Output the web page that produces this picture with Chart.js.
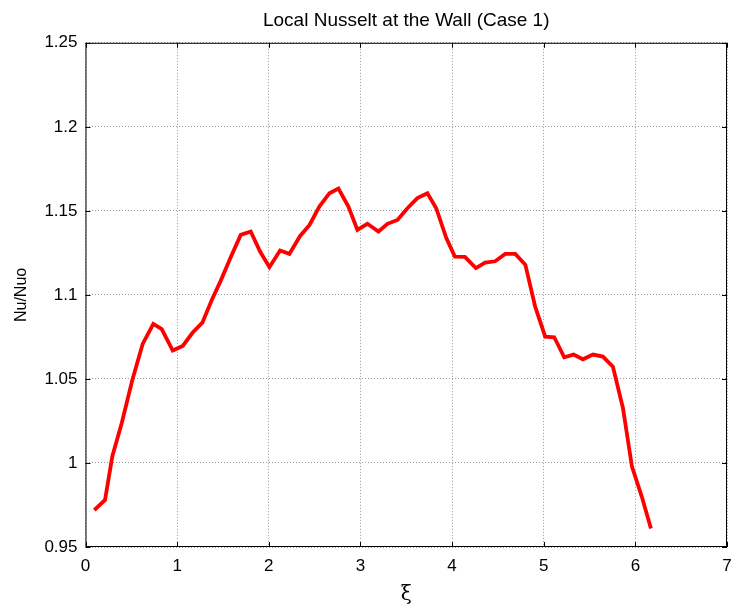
<!DOCTYPE html>
<html>
<head>
<meta charset="utf-8">
<script src="https://cdn.jsdelivr.net/npm/chart.js@4/dist/chart.umd.min.js"></script>
<style>
  html, body { margin: 0; padding: 0; background: #fff; overflow: hidden; }
</style>
</head>
<body>
<canvas id="chart" width="732" height="607"></canvas>
<script>
// values
const xi = [
  0.096, 0.213, 0.293, 0.395, 0.511, 0.624, 0.74, 0.832, 0.952, 1.061,
  1.17, 1.275, 1.378, 1.476, 1.588, 1.694, 1.803, 1.905, 2.007, 2.123,
  2.225, 2.342, 2.443, 2.552, 2.662, 2.76, 2.869, 2.967, 3.076, 3.197,
  3.295, 3.404, 3.513, 3.622, 3.731, 3.827, 3.936, 4.03, 4.14, 4.26,
  4.36, 4.47, 4.58, 4.69, 4.80, 4.907, 5.016, 5.115, 5.224, 5.326,
  5.428, 5.537, 5.646, 5.755, 5.865, 5.963, 6.07, 6.17,
];
const nu = [
  0.972, 0.978, 1.004, 1.0236, 1.0494, 1.0708, 1.0827, 1.0796, 1.0669, 1.0696,
  1.0776, 1.0835, 1.097, 1.1085, 1.1228, 1.1357, 1.1377, 1.1258, 1.1165, 1.1264,
  1.1244, 1.1351, 1.1415, 1.1526, 1.1605, 1.1633, 1.1526, 1.1387, 1.1423, 1.1377,
  1.1423, 1.1446, 1.1516, 1.1576, 1.1605, 1.1516, 1.1340, 1.1228, 1.1226, 1.1159,
  1.1192, 1.1200, 1.1244, 1.1244, 1.1179, 1.093, 1.0752, 1.0748, 1.0629, 1.0645,
  1.0617, 1.0645, 1.0633, 1.0573, 1.0326, 0.9978, 0.980, 0.961,
];
const xTicks = [0, 1, 2, 3, 4, 5, 6, 7];
const yTicks = [0.95, 1, 1.05, 1.1, 1.15, 1.2, 1.25];

const boxPlugin = {
  id: 'box',
  afterDraw(chart) {
    const { ctx, chartArea: a } = chart;
    ctx.save();
    ctx.strokeStyle = '#000';
    ctx.lineWidth = 1;
    ctx.strokeRect(a.left + 0.5, a.top + 0.5, a.right - a.left - 1, a.bottom - a.top - 1);
    // inward tick marks like the original
    ctx.beginPath();
    const xs = chart.scales.x;
    const ys = chart.scales.y;
    xTicks.forEach((t) => {
      const px = Math.round(xs.getPixelForValue(t)) + 0.5;
      ctx.moveTo(px, a.bottom); ctx.lineTo(px, a.bottom - 5);
      ctx.moveTo(px, a.top); ctx.lineTo(px, a.top + 5);
    });
    yTicks.forEach((t) => {
      const py = Math.round(ys.getPixelForValue(t)) + 0.5;
      ctx.moveTo(a.left, py); ctx.lineTo(a.left + 5, py);
      ctx.moveTo(a.right, py); ctx.lineTo(a.right - 5, py);
    });
    ctx.stroke();
    ctx.restore();
  },
};

const sans = '"Liberation Sans", Arial, sans-serif';
const tickFont = { family: sans, size: 17 };

new Chart(document.getElementById('chart'), {
  type: 'line',
  data: {
    datasets: [{
      data: xi.map((x, i) => ({ x, y: nu[i] })),
      borderColor: 'rgb(255, 0, 0)',
      borderWidth: 3.8,
      pointRadius: 0,
      tension: 0,
      fill: false,
    }],
  },
  options: {
    responsive: false,
    animation: false,
    layout: { padding: { left: 0, right: 5, top: 0, bottom: 0 } },
    plugins: {
      legend: { display: false },
      tooltip: { enabled: false },
      title: {
        display: true,
        fullSize: false,
        text: 'Local Nusselt at the Wall (Case 1)',
        color: '#000',
        font: { family: sans, size: 19, weight: 'normal' },
        padding: { top: 9, bottom: 11 },
      },
    },
    scales: {
      x: {
        type: 'linear',
        min: 0,
        max: 7,
        afterBuildTicks: (s) => { s.ticks = xTicks.map((v) => ({ value: v })); },
        afterFit: (s) => { s.height = 60; s.paddingLeft = 0; s.paddingRight = 0; },
        grid: { color: '#999', drawTicks: false },
        border: { display: false, dash: [1, 2] },
        ticks: { color: '#000', font: tickFont, padding: 9, maxRotation: 0 },
        title: {
          display: true,
          text: 'ξ',
          color: '#000',
          font: { family: '"DejaVu Serif", "Liberation Serif", serif', size: 20 },
          padding: { top: 0, bottom: 0 },
        },
      },
      y: {
        type: 'linear',
        min: 0.95,
        max: 1.25,
        afterBuildTicks: (s) => { s.ticks = yTicks.map((v) => ({ value: v })); },
        afterFit: (s) => { s.width = 85.5; },
        grid: { color: '#999', drawTicks: false },
        border: { display: false, dash: [1, 2] },
        ticks: {
          color: '#000',
          font: tickFont,
          padding: 8,
          callback: (v) => String(Number(v.toFixed(2))),
        },
        title: {
          display: true,
          text: 'Nu/Nuo',
          color: '#000',
          font: { family: sans, size: 16 },
          padding: { top: 12, bottom: 0 },
        },
      },
    },
  },
  plugins: [boxPlugin],
});
</script>
</body>
</html>
